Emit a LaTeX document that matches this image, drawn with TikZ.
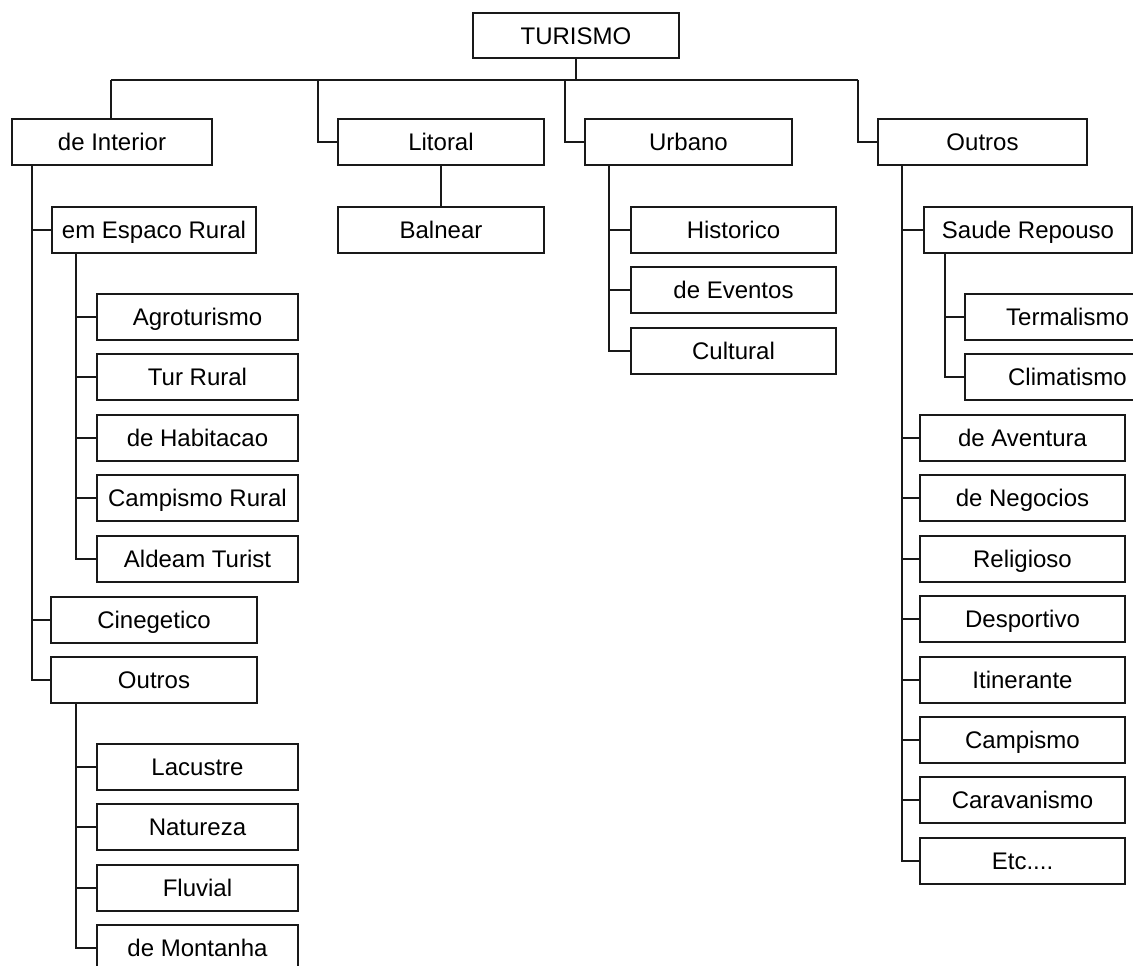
\documentclass[tikz,border=0pt]{standalone}
\usepackage{fontspec}
\setmainfont{Liberation Sans}
\begin{document}
\begin{tikzpicture}[x=0.75pt,y=-0.75pt,
  every node/.style={font=\fontsize{18pt}{21pt}\selectfont},
  box/.style={draw=black!90, line width=1pt, rectangle, inner sep=0pt,
    text height=15pt, text depth=2.1pt,
    minimum width=153.75pt, minimum height=34.5pt, fill=white},
  link/.style={draw=black!90, line width=1pt}]
\useasboundingbox (0,0) rectangle (1133,966);
\clip (0,0) rectangle (1133,966);
% root
\node[box, minimum width=154.5pt, minimum height=33.75pt] (tur) at (576,35.5) {TURISMO};
% level 1
\node[box, minimum width=150pt] (dint) at (112,142) {de Interior};
\node[box, minimum width=154.5pt] (lit) at (441,142) {Litoral};
\node[box, minimum width=155.25pt] (urb) at (688.5,142) {Urbano};
\node[box, minimum width=156.75pt] (out) at (982.5,142) {Outros};
% de Interior branch
\node[box, minimum width=153pt] (esr) at (154,230) {em Espaco Rural};
\node[box, minimum width=150.75pt] (agro) at (197.5,317) {Agroturismo};
\node[box, minimum width=150.75pt] (tur2) at (197.5,377) {Tur Rural};
\node[box, minimum width=150.75pt] (hab) at (197.5,438) {de Habitacao};
\node[box, minimum width=150.75pt] (camr) at (197.5,498) {Campismo Rural};
\node[box, minimum width=150.75pt] (ald) at (197.5,559) {Aldeam Turist};
\node[box, minimum width=154.5pt] (cine) at (154,620) {Cinegetico};
\node[box, minimum width=154.5pt] (out2) at (154,680) {Outros};
\node[box, minimum width=150.75pt] (lac) at (197.5,767) {Lacustre};
\node[box, minimum width=150.75pt] (nat) at (197.5,827) {Natureza};
\node[box, minimum width=150.75pt] (flu) at (197.5,888) {Fluvial};
\node[box, minimum width=150.75pt] (mon) at (197.5,948) {de Montanha};
% Litoral branch
\node[box, minimum width=154.5pt] (bal) at (441,230) {Balnear};
% Urbano branch
\node[box] (his) at (733.5,230) {Historico};
\node[box] (eve) at (733.5,290) {de Eventos};
\node[box] (cul) at (733.5,351) {Cultural};
% Outros branch
\node[box, minimum width=156pt] (sau) at (1028,230) {Saude Repouso};
\node[box] (ter) at (1067.5,317) {Termalismo};
\node[box] (cli) at (1067.5,377) {Climatismo};
\node[box] (ave) at (1022.5,438) {de Aventura};
\node[box] (neg) at (1022.5,498) {de Negocios};
\node[box] (rel) at (1022.5,559) {Religioso};
\node[box] (des) at (1022.5,619) {Desportivo};
\node[box] (iti) at (1022.5,680) {Itinerante};
\node[box] (cam) at (1022.5,740) {Campismo};
\node[box] (car) at (1022.5,800) {Caravanismo};
\node[box] (etc) at (1022.5,861) {Etc....};
% bus coordinates
\coordinate (b1) at (111,80);
\coordinate (b2) at (318,80);
\coordinate (b3) at (565,80);
\coordinate (b4) at (858,80);
\coordinate (t1) at (32,165);
\coordinate (t2) at (76,253);
\coordinate (t3) at (76,703);
\coordinate (t4) at (609,165);
\coordinate (t5) at (902,165);
\coordinate (t6) at (945,253);
% connectors
\draw[link] (tur.south) -- (tur.south |- b1);
\draw[link] (b1) -- (b4);
\draw[link] (b1) -- (b1 |- dint.north);
\draw[link] (b2) |- (lit.west);
\draw[link] (b3) |- (urb.west);
\draw[link] (b4) |- (out.west);
\draw[link] (lit.south) -- (bal.north);
\foreach \n in {esr,cine,out2} \draw[link] (t1) |- (\n.west);
\foreach \n in {agro,tur2,hab,camr,ald} \draw[link] (t2) |- (\n.west);
\foreach \n in {lac,nat,flu,mon} \draw[link] (t3) |- (\n.west);
\foreach \n in {his,eve,cul} \draw[link] (t4) |- (\n.west);
\foreach \n in {sau,ave,neg,rel,des,iti,cam,car,etc} \draw[link] (t5) |- (\n.west);
\foreach \n in {ter,cli} \draw[link] (t6) |- (\n.west);
\end{tikzpicture}
\end{document}
